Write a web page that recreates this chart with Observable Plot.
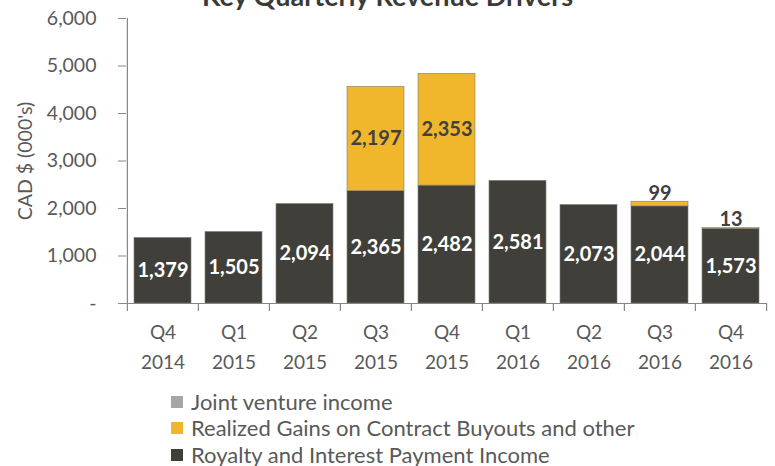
<!DOCTYPE html>
<html>
<head>
<meta charset="utf-8">
<script src="https://cdn.jsdelivr.net/npm/d3@7"></script>
<script src="https://cdn.jsdelivr.net/npm/@observablehq/plot@0.6"></script>
<style>
  body { margin: 0; background: #fff; font-family: Lato, "Open Sans", sans-serif; }
  #wrap { position: relative; width: 775px; height: 466px; overflow: hidden; background: #fff; }
  #title { position: absolute; left: 0; width: 775px; top: -18px; text-align: center; font-weight: bold; font-size: 27px; line-height: 27px; color: #3a3a36; }
  #chart { position: absolute; left: 0; top: 0; }
  #legend { position: absolute; left: 171px; top: 390.5px; font-size: 22px; color: #595959; }
  .item { display: flex; align-items: center; height: 22px; margin-bottom: 4.5px; }
  .item:last-child { margin-bottom: 0; }
  .item span.t { line-height: 20px; }
  .sw { width: 12px; height: 12px; margin-right: 8px; }
</style>
</head>
<body>
<div id="wrap">
  <div id="chart"></div>
  <div id="title">Key Quarterly Revenue Drivers</div>
  <div id="legend"></div>
</div>
<script>
const quarters = ["Q4\n2014","Q1\n2015","Q2\n2015","Q3\n2015","Q4\n2015","Q1\n2016","Q2\n2016","Q3\n2016","Q4\n2016"];
const royalty = [1379, 1505, 2094, 2365, 2482, 2581, 2073, 2044, 1573];
const gains   = [0, 0, 0, 2197, 2353, 0, 0, 99, 13];
const joint   = [0, 0, 0, 0, 0, 0, 0, 0, 0];
const seriesNames = ["Royalty and Interest Payment Income", "Realized Gains on Contract Buyouts and other", "Joint venture income"];
const seriesColors = ["#403f39", "#f1b72c", "#a6a6a6"];
const yTicks = [0, 1000, 2000, 3000, 4000, 5000, 6000];
const legendOrder = [2, 1, 0];

const W = 775, ML = 126, MR = 8;
const step = (W - ML - MR) / quarters.length;

const long = [];
const seriesVals = [royalty, gains, joint];
seriesNames.forEach((s, si) => quarters.forEach((q, i) => long.push({q, s, v: seriesVals[si][i]})));

const inLabels = [];
const topLabels = [];
quarters.forEach((q, i) => {
  inLabels.push({q, y: royalty[i] / 2, t: royalty[i], c: "white"});
  if (gains[i] > 500) inLabels.push({q, y: royalty[i] + gains[i] / 2, t: gains[i], c: "#404040"});
  else if (gains[i] > 0) topLabels.push({q, y: royalty[i] + gains[i], t: gains[i]});
});
const fmt = d3.format(",");
const axisColor = "#868686";
const tickBottom = -170;

const chart = Plot.plot({
  width: W, height: 380,
  marginLeft: ML, marginRight: MR, marginTop: 18, marginBottom: 77,
  style: {fontFamily: "Lato, 'Open Sans', sans-serif", fontSize: "19px", color: "#595959", background: "white", overflow: "visible"},
  x: {domain: quarters, paddingInner: 0.2, paddingOuter: 0.1, label: null},
  y: {domain: [0, 6000], label: null},
  color: {domain: seriesNames, range: seriesColors},
  marks: [
    Plot.barY(long, {x: "q", y: "v", fill: "s", stroke: d => d.v > 0 ? "#7d7c76" : "none", strokeWidth: 0.6}),
    Plot.ruleY([0], {stroke: axisColor, strokeWidth: 1.2}),
    Plot.ruleX(quarters, {x: d => d, y1: tickBottom, y2: 0, dx: -step / 2, stroke: axisColor, strokeWidth: 1.2}),
    Plot.ruleX([quarters[quarters.length - 1]], {x: d => d, y1: tickBottom, y2: 0, dx: step / 2, stroke: axisColor, strokeWidth: 1.2}),
    Plot.ruleX([quarters[0]], {x: d => d, y1: 0, y2: 6000, dx: -step / 2, stroke: axisColor, strokeWidth: 1.2}),
    Plot.axisY({ticks: yTicks, tickSize: 8, tickPadding: 22, tickFormat: d => d === 0 ? "-" : fmt(d), stroke: axisColor, fill: "#595959", fontSize: 19.5,
      label: "CAD $ (000's)", labelAnchor: "center", labelOffset: 108, labelArrow: "none"}),
    Plot.axisX({tickSize: 0, tickPadding: 15, lineHeight: 1.55, fontSize: 19, fill: "#595959", label: null}),
    Plot.text(inLabels, {x: "q", y: "y", text: d => fmt(d.t), fill: "c", fontWeight: "bold", fontSize: 20}),
    Plot.text(topLabels, {x: "q", y: "y", text: d => fmt(d.t), fill: "#404040", fontWeight: "bold", fontSize: 20, lineAnchor: "bottom", dy: -2})
  ]
});
document.getElementById("chart").appendChild(chart);

const leg = document.getElementById("legend");
legendOrder.forEach(i => {
  const row = document.createElement("div");
  row.className = "item";
  const sw = document.createElement("span");
  sw.className = "sw";
  sw.style.background = seriesColors[i];
  const tx = document.createElement("span");
  tx.className = "t";
  tx.textContent = seriesNames[i];
  row.appendChild(sw); row.appendChild(tx);
  leg.appendChild(row);
});
</script>
</body>
</html>
